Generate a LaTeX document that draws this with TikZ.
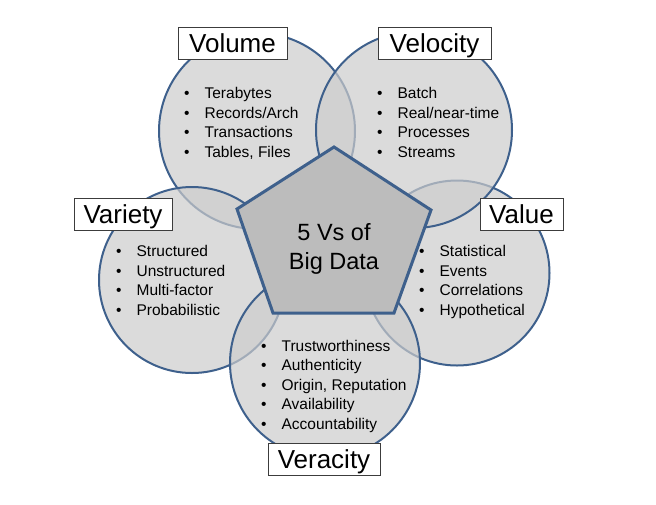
\documentclass[tikz,border=0pt]{standalone}
\usepackage{fontspec}
\setmainfont{Liberation Sans}
\usetikzlibrary{positioning}
\definecolor{vblue}{RGB}{62,96,140}
\definecolor{vfill}{RGB}{204,204,204}
\definecolor{pfill}{RGB}{188,188,188}
\definecolor{lframe}{RGB}{60,60,60}
\newcommand{\blist}[1]{\begin{tabular}{@{}l@{\hspace{15pt}}l@{}}#1\end{tabular}}

\begin{document}
\begin{tikzpicture}[x=1pt,y=-1pt,
	vcircle/.style={circle,draw=vblue,line width=2pt,fill=vfill,fill opacity=0.7,inner sep=0pt},
	vlabel/.style={draw=lframe,line width=0.9pt,fill=white,inner sep=0pt,text height=25.5pt,text depth=6.5pt,font=\fontsize{26}{30}\selectfont},
	vitems/.style={anchor=west,inner sep=0pt,font=\fontsize{15.5}{19.5}\selectfont},
	vcenter/.style={align=center,inner sep=0pt,font=\fontsize{23.5}{29}\selectfont}]
	\useasboundingbox (0,0) rectangle (656,504);
	\node[vcircle,minimum size=196pt] (volume)   at (257,131) {};
	\node[vcircle,minimum size=185pt] (value)    at (457,273) {};
	\node[vcircle,minimum size=196pt] (velocity) at (414,130) {};
	\node[vcircle,minimum size=186pt] (variety)  at (192,280) {};
	\node[vcircle,minimum size=190pt] (veracity) at (325,363) {};
	\draw[vblue,line width=3pt,fill=pfill,line join=miter]
		(334,147) -- (431,210) -- (394,313) -- (273,313) -- (237,209) -- cycle;
	\node[vcenter] (big) at (334,249) {5 Vs of\\Big Data};
	\node[vitems] (volumelist) at (184,124) {\blist{
		\textbullet & Terabytes\\
		\textbullet & Records/Arch\\
		\textbullet & Transactions\\
		\textbullet & Tables, Files}};
	\node[vitems] (velocitylist) at (377,124) {\blist{
		\textbullet & Batch\\
		\textbullet & Real/near-time\\
		\textbullet & Processes\\
		\textbullet & Streams}};
	\node[vitems] (varietylist) at (116,282) {\blist{
		\textbullet & Structured\\
		\textbullet & Unstructured\\
		\textbullet & Multi-factor\\
		\textbullet & Probabilistic}};
	\node[vitems] (valuelist) at (419,282) {\blist{
		\textbullet & Statistical\\
		\textbullet & Events\\
		\textbullet & Correlations\\
		\textbullet & Hypothetical}};
	\node[vitems] (veracitylist) at (261,386.5) {\blist{
		\textbullet & Trustworthiness\\
		\textbullet & Authenticity\\
		\textbullet & Origin, Reputation\\
		\textbullet & Availability\\
		\textbullet & Accountability}};
	\node[vlabel,minimum width=109pt] (volumelabel)   at (232.5,43) {Volume};
	\node[vlabel,minimum width=113pt] (velocitylabel) at (434.5,43) {Velocity};
	\node[vlabel,minimum width=98pt]  (varietylabel)  at (123,214) {Variety};
	\node[vlabel,minimum width=83pt]  (valuelabel)    at (521.5,214) {Value};
	\node[vlabel,minimum width=112pt] (veracitylabel) at (324,459) {Veracity};
\end{tikzpicture}
\end{document}
